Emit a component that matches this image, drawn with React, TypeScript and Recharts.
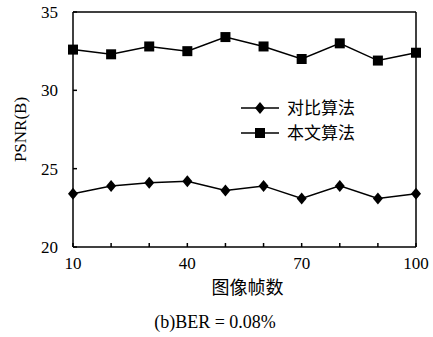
import { LineChart, Line, XAxis, YAxis, ReferenceLine } from "recharts";

const FRAMES = [10, 20, 30, 40, 50, 60, 70, 80, 90, 100];
const COMPARE = [23.4, 23.9, 24.1, 24.2, 23.6, 23.9, 23.1, 23.9, 23.1, 23.4];
const OURS = [32.6, 32.3, 32.8, 32.5, 33.4, 32.8, 32.0, 33.0, 31.9, 32.4];
const X_LABELS = [10, 40, 70, 100];
const Y_TICKS = [20, 25, 30, 35];

const data = FRAMES.map((f, i) => ({ f, compare: COMPARE[i], ours: OURS[i] }));

const serif = "'Liberation Serif', 'DejaVu Serif', serif";
const cjk = "'Noto Sans CJK SC', sans-serif";

const Diamond = ({ cx, cy }: { cx: number; cy: number }) => (
  <polygon points={`${cx},${cy - 6} ${cx + 5},${cy} ${cx},${cy + 6} ${cx - 5},${cy}`} fill="#000" />
);
const Square = ({ cx, cy }: { cx: number; cy: number }) => (
  <rect x={cx - 5} y={cy - 5} width={10} height={10} fill="#000" />
);

const LEGEND = [
  { label: "对比算法", Mark: Diamond },
  { label: "本文算法", Mark: Square },
];

function LegendBox() {
  return (
    <svg width={170} height={70} style={{ position: "absolute", left: 240, top: 86 }}>
      {LEGEND.map((l, i) => {
        const y = 22 + i * 25;
        return (
          <g key={l.label}>
            <line x1={1} x2={39} y1={y} y2={y} stroke="#000" strokeWidth={1.5} />
            <l.Mark cx={20} cy={y} />
            <text x={47} y={y + 6} fontSize={17} fontFamily={cjk} fill="#000">{l.label}</text>
          </g>
        );
      })}
    </svg>
  );
}

export default function App() {
  return (
    <div style={{ position: "absolute", left: 0, top: 0, width: 433, height: 337, background: "#fff" }}>
      <LineChart width={433} height={337} data={data} margin={{ top: 12, right: 17, left: 0, bottom: 40 }}>
        <XAxis
          dataKey="f"
          type="number"
          domain={[10, 100]}
          ticks={FRAMES}
          tickFormatter={(v) => (X_LABELS.includes(v) ? String(v) : "")}
          tickSize={-4}
          tickMargin={14}
          height={50}
          stroke="#000"
          strokeWidth={1.5}
          tick={{ fontSize: 17, fontFamily: serif, fill: "#000" }}
          label={{ value: "图像帧数", position: "insideBottom", offset: 3, dx: 3, fontSize: 18, fontFamily: cjk, fill: "#000" }}
        />
        <YAxis
          domain={[20, 35]}
          ticks={Y_TICKS}
          width={73}
          tickSize={-4}
          tickMargin={19}
          stroke="#000"
          strokeWidth={1.5}
          tick={{ fontSize: 17, fontFamily: serif, fill: "#000" }}
          label={{ value: "PSNR(B)", angle: -90, position: "insideLeft", offset: 20, fontSize: 17, fontFamily: serif, fill: "#000", style: { textAnchor: "middle" } }}
        />
        <ReferenceLine y={35} stroke="#000" strokeWidth={1.5} />
        <ReferenceLine x={100} stroke="#000" strokeWidth={1.5} />
        <Line
          dataKey="compare"
          name="对比算法"
          stroke="#000"
          strokeWidth={1.5}
          dot={(p: any) => <Diamond key={p.index} cx={p.cx} cy={p.cy} />}
          isAnimationActive={false}
        />
        <Line
          dataKey="ours"
          name="本文算法"
          stroke="#000"
          strokeWidth={1.5}
          dot={(p: any) => <Square key={p.index} cx={p.cx} cy={p.cy} />}
          isAnimationActive={false}
        />
      </LineChart>
      <LegendBox />
      <div
        style={{
          position: "absolute",
          left: 0,
          width: 430,
          top: 312,
          textAlign: "center",
          fontFamily: serif,
          fontSize: 18,
          color: "#000",
        }}
      >
        (b)BER = 0.08%
      </div>
    </div>
  );
}
